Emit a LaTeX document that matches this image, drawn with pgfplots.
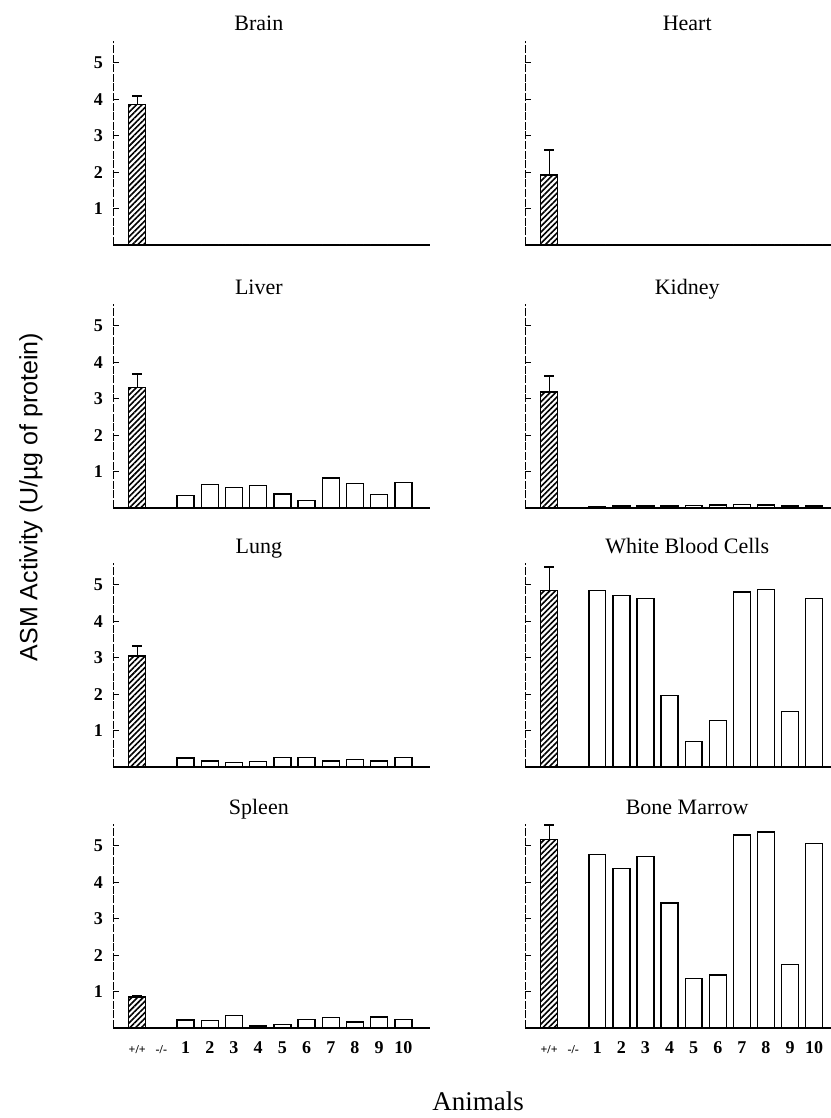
\documentclass[border=0pt]{standalone}
\usepackage{fontspec}
\setmainfont{Liberation Serif}
\setsansfont{Liberation Sans}
\usepackage{pgfplots}
\pgfplotsset{compat=1.18}
\usetikzlibrary{patterns.meta}

\pgfplotsset{
  organ/.style={
    scale only axis, height=102pt,
    anchor=south west,
    ymin=0, ymax=5.6, xmin=-1,
    ytick={1,2,3,4,5}, xtick={0,...,11}, xticklabels={},
    axis x line*=bottom, axis y line*=left,
    x axis line style={-, line width=1.1pt},
    y axis line style={-, line width=0.5pt, dash pattern=on 4pt off 0.8pt},
    tick align=inside, major tick length=3pt,
    x tick style={draw=none},
    y tick style={line width=0.6pt, black},
    /pgf/number format/assume math mode=true,
    tick label style={font=\bfseries\fontsize{9}{9}\selectfont},
    yticklabel style={xshift=-1.5pt},
    title style={font=\fontsize{11}{11}\selectfont, anchor=base, yshift=-1pt},
    clip=false,
  },
  leftcol/.style={organ, width=158.5pt, xmax=12.1, title style={at={(0.46,1)}}},
  rightcol/.style={organ, width=153pt, xmax=11.7, yticklabels={}, title style={at={(0.53,1)}}},
  bottomrow/.style={
    xticklabels={{\fontsize{6}{6}\selectfont +/+},{\fontsize{6}{6}\selectfont -/-},1,2,3,4,5,6,7,8,9,10},
    xticklabel style={anchor=base, yshift=-13pt},
  },
  wt/.style={ybar, bar width=0.7, bar shift=0pt, draw=black, line width=0.7pt,
    pattern={Lines[angle=45, distance=2pt, line width=0.8pt]},
    error bars/.cd, y dir=plus, y explicit,
    error bar style={line width=0.6pt},
    error mark options={rotate=90, line width=1pt, mark size=2.5pt}},
  ko/.style={ybar, bar width=0.7, bar shift=0pt, draw=black, fill=white, line width=0.7pt},
}

\begin{document}
\begin{tikzpicture}
\useasboundingbox (0,0) rectangle (415pt,559pt);

% row 1
\begin{axis}[leftcol, at={(56.5pt,436.5pt)}, title={Brain}]
\addplot[wt] coordinates {(0,3.85) +- (0,0.25)};
\addplot[ko] coordinates {(2,0) (3,0) (4,0) (5,0) (6,0) (7,0) (8,0) (9,0) (10,0) (11,0)};
\end{axis}
\begin{axis}[rightcol, at={(262.5pt,436.5pt)}, title={Heart}]
\addplot[wt] coordinates {(0,1.92) +- (0,0.68)};
\addplot[ko] coordinates {(2,0) (3,0) (4,0) (5,0) (6,0) (7,0) (8,0) (9,0) (10,0) (11,0)};
\end{axis}

% row 2
\begin{axis}[leftcol, at={(56.5pt,305pt)}, title={Liver}]
\addplot[wt] coordinates {(0,3.30) +- (0,0.38)};
\addplot[ko] coordinates {(2,0.34) (3,0.64) (4,0.57) (5,0.61) (6,0.38) (7,0.21) (8,0.82) (9,0.68) (10,0.37) (11,0.70)};
\end{axis}
\begin{axis}[rightcol, at={(262.5pt,305pt)}, title={Kidney}]
\addplot[wt] coordinates {(0,3.18) +- (0,0.44)};
\addplot[ko] coordinates {(2,0.04) (3,0.05) (4,0.06) (5,0.06) (6,0.07) (7,0.08) (8,0.09) (9,0.08) (10,0.06) (11,0.05)};
\end{axis}

% row 3
\begin{axis}[leftcol, at={(56.5pt,175.5pt)}, title={Lung}]
\addplot[wt] coordinates {(0,3.05) +- (0,0.27)};
\addplot[ko] coordinates {(2,0.25) (3,0.16) (4,0.13) (5,0.15) (6,0.26) (7,0.26) (8,0.17) (9,0.21) (10,0.16) (11,0.26)};
\end{axis}
\begin{axis}[rightcol, at={(262.5pt,175.5pt)}, title={White Blood Cells}]
\addplot[wt] coordinates {(0,4.85) +- (0,0.65)};
\addplot[ko] coordinates {(2,4.85) (3,4.70) (4,4.63) (5,1.96) (6,0.70) (7,1.28) (8,4.80) (9,4.87) (10,1.53) (11,4.63)};
\end{axis}

% row 4
\begin{axis}[leftcol, bottomrow, at={(56.5pt,45pt)}, title={Spleen}]
\addplot[wt] coordinates {(0,0.85) +- (0,0.04)};
\addplot[ko] coordinates {(2,0.22) (3,0.20) (4,0.34) (5,0.06) (6,0.09) (7,0.24) (8,0.29) (9,0.17) (10,0.30) (11,0.24)};
\end{axis}
\begin{axis}[rightcol, bottomrow, at={(262.5pt,45pt)}, title={Bone Marrow}]
\addplot[wt] coordinates {(0,5.18) +- (0,0.40)};
\addplot[ko] coordinates {(2,4.77) (3,4.38) (4,4.70) (5,3.43) (6,1.36) (7,1.45) (8,5.30) (9,5.38) (10,1.75) (11,5.07)};
\end{axis}

\node[rotate=90, font=\sffamily\fontsize{12.5}{12.5}\selectfont] at (15.5pt,310.5pt) {ASM Activity (U/µg of protein)};
\node[anchor=base, font=\fontsize{13.5}{13.5}\selectfont] at (239pt,4pt) {Animals};
\end{tikzpicture}
\end{document}
